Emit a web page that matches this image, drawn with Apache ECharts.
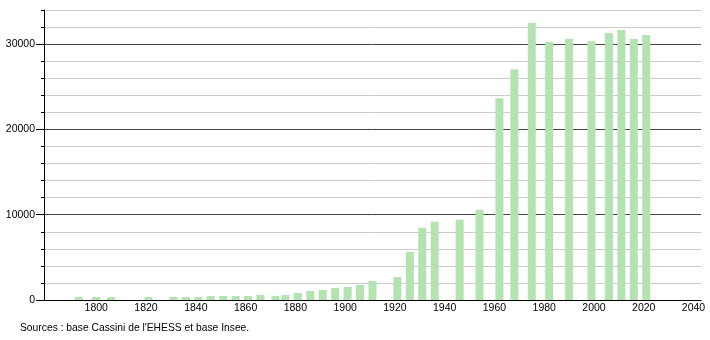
<!DOCTYPE html>
<html><head><meta charset="utf-8">
<script src="https://cdn.jsdelivr.net/npm/echarts@6/dist/echarts.min.js"></script>
<style>html,body{margin:0;padding:0;background:#fff}#c{width:710px;height:340px}</style>
</head><body><div id="c"></div>
<script>
var years = [1793,1800,1806,1821,1831,1836,1841,1846,1851,1856,1861,1866,1872,1876,1881,1886,1891,1896,1901,1906,1911,1921,1926,1931,1936,1946,1954,1962,1968,1975,1982,1990,1999,2006,2011,2016,2021];
var population = [350,350,350,350,350,350,350,470,470,470,470,590,470,590,820,1060,1180,1410,1530,1760,2240,2700,5650,8470,9180,9410,10590,23650,27060,32470,30240,30590,30350,31290,31650,30590,31060];
var xTickLabels = [1800,1820,1840,1860,1880,1900,1920,1940,1960,1980,2000,2020,2040];
var yTickLabels = [0,10000,20000,30000];
var sourceText = "Sources : base Cassini de l'EHESS et base Insee.";

var chart = echarts.init(document.getElementById('c'), null, {renderer:'canvas'});
var font = {fontFamily:'Liberation Sans, Arial, sans-serif', fontSize:10.5, color:'#000'};
chart.setOption({
  animation:false,
  grid:{left:44, right:9, top:10, bottom:40, containLabel:false},
  graphic:[{type:'text', left:20, top:323, style:{text:sourceText, fill:'#000', font:'10.3px Liberation Sans, Arial, sans-serif'}}],
  xAxis:{type:'value', min:1779, max:2043,
    axisLine:{show:true, onZero:false, lineStyle:{color:'#000', width:1}},
    axisTick:{show:false},
    splitLine:{show:false},
    axisLabel:Object.assign({customValues:xTickLabels, margin:3, formatter:function(v){return String(v);}}, font)
  },
  yAxis:[{type:'value', min:0, max:34000, interval:2000,
    axisLine:{show:true, lineStyle:{color:'#000', width:1}},
    axisTick:{show:true, length:3, lineStyle:{color:'#000'}},
    splitLine:{show:true, lineStyle:{color:['#444','#ccc','#ccc','#ccc','#ccc'], width:1}},
    axisLabel:Object.assign({margin:9, formatter:function(v){return yTickLabels.indexOf(v)>=0 ? String(v) : '';}}, font)
  },{type:'value', min:0, max:34000, position:'left',
    axisLine:{show:false},
    axisTick:{show:true, length:8, customValues:yTickLabels, lineStyle:{color:'#000'}},
    axisLabel:{show:false},
    splitLine:{show:false}
  }],
  series:[{type:'bar', barWidth:8, itemStyle:{color:'#b3e3b1'},
    data: years.map(function(y,i){return [y, population[i]];})}]
});
</script></body></html>
